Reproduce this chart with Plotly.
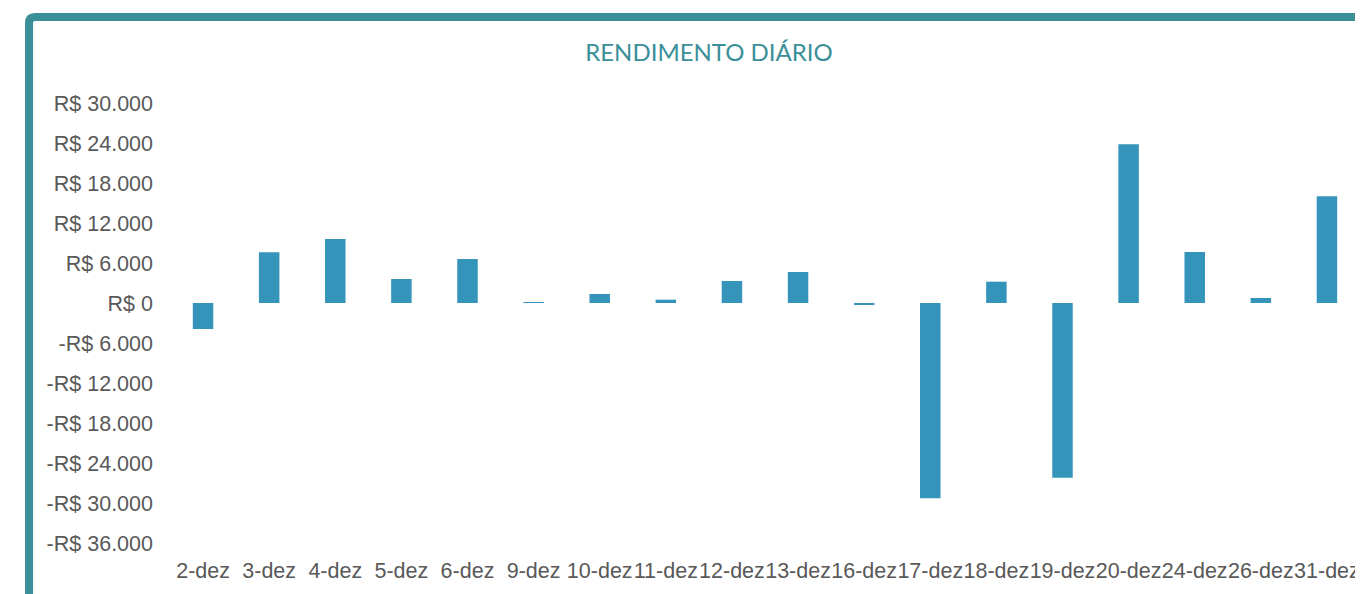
import plotly.graph_objects as go

categories = ["2-dez", "3-dez", "4-dez", "5-dez", "6-dez", "9-dez", "10-dez", "11-dez", "12-dez",
              "13-dez", "16-dez", "17-dez", "18-dez", "19-dez", "20-dez", "24-dez", "26-dez", "31-dez"]
values = [-3900, 7600, 9600, 3600, 6600, 60, 1350, 500, 3300,
          4650, -200, -29300, 3200, -26200, 23800, 7650, 750, 16000]
tick_vals = [30000, 24000, 18000, 12000, 6000, 0, -6000, -12000, -18000, -24000, -30000, -36000]


def brl(v):
    s = f"{abs(v):,}".replace(",", ".")
    return ("-R$ " if v < 0 else "R$ ") + s


tick_text = [brl(v) for v in tick_vals]

# page has an 8px body margin, so figure coordinates are offset by 8px
OFF = 8
W, H = 1363 - OFF, 594 - OFF
L, R, T, B = 170 - OFF, 3, 103 - OFF, 51
pw, ph = W - L - R, H - T - B


def px(x):
    return (x - OFF - L) / pw


def py(y):
    return (H - B - (y - OFF)) / ph


fig = go.Figure(go.Bar(
    x=categories, y=values,
    marker=dict(color="#3494BA", line=dict(width=0)),
    width=0.31,
))

frame_color = "#3A8F98"
fx, fy, r = 29, 17, 6
path = (f"M {px(fx)},{py(H + 40)} L {px(fx)},{py(fy + r)} "
        f"Q {px(fx)},{py(fy)} {px(fx + r)},{py(fy)} L {px(W + 40)},{py(fy)}")

tick_font = dict(family="Liberation Sans, Arial", size=21.5, color="#595959")

fig.update_layout(
    width=W, height=H,
    margin=dict(l=L, r=R, t=T, b=B, autoexpand=False),
    paper_bgcolor="white", plot_bgcolor="white",
    showlegend=False,
    title=dict(text="RENDIMENTO DIÁRIO", x=(709 - OFF) / W, xref="container", xanchor="center",
               y=1 - (53 - OFF) / H, yref="container", yanchor="middle",
               font=dict(family="Lato", size=24, color=frame_color)),
    xaxis=dict(showgrid=False, showline=False, zeroline=False, ticks="",
               tickangle=0, automargin=False,
               tickfont=tick_font, ticklabelstandoff=12, fixedrange=True),
    yaxis=dict(range=[-36000, 30000], tickvals=tick_vals, ticktext=tick_text,
               showgrid=False, showline=False, zeroline=False, ticks="", automargin=False,
               tickfont=tick_font, ticklabelstandoff=16, fixedrange=True),
    shapes=[dict(type="path", path=path, xref="paper", yref="paper",
                 line=dict(color=frame_color, width=8), layer="above")],
)

fig.write_html("out.html")
